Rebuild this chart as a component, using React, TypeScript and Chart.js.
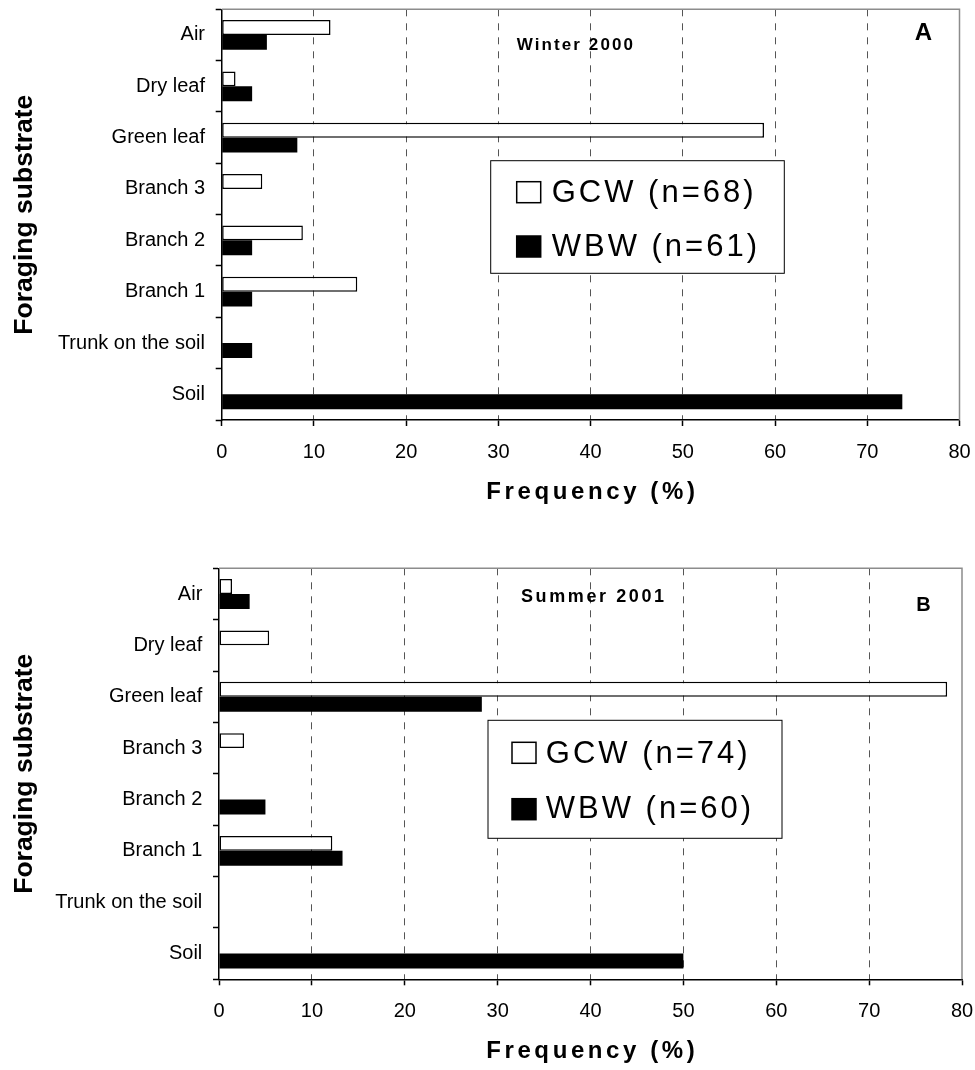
import React, { useEffect, useRef } from 'react';
import { Chart, registerables } from 'chart.js';

Chart.register(...registerables);

const FONT = '"Liberation Sans", Arial, Helvetica, sans-serif';

// ---- data ----
const categories = ['Air', 'Dry leaf', 'Green leaf', 'Branch 3', 'Branch 2', 'Branch 1', 'Trunk on the soil', 'Soil'];

const winterGCW = [11.8, 1.5, 58.8, 4.4, 8.8, 14.7, 0, 0];
const winterWBW = [4.9, 3.3, 8.2, 0, 3.3, 3.3, 3.3, 73.8];
const winterLegend = ['GCW (n=68)', 'WBW (n=61)'];

const summerGCW = [1.4, 5.4, 78.4, 2.7, 0, 12.2, 0, 0];
const summerWBW = [3.3, 0, 28.3, 0, 5.0, 13.3, 0, 50.0];
const summerLegend = ['GCW (n=74)', 'WBW (n=60)'];

const xMin = 0;
const xMax = 80;
const xStep = 10;

const yTitle = 'Foraging substrate';
const xTitle = 'Frequency (%)';

// ---- panel layout configs ----
const panelA = {
  season: 'Winter 2000',
  letter: 'A',
  gcw: winterGCW,
  wbw: winterWBW,
  legend: winterLegend,
  h: 545,
  yW: 221.7,
  padTop: 9.3,
  padRight: 15.5,
  padBottom: 20,
  xH: 105,
  box: { x: 269, y: 151.4, w: 293.6, h: 112.6 },
  swatchX: 295,
  textX: 330,
  rows: [{ top: 172.4, base: 192.4 }, { top: 226.7, base: 246.7 }],
  seasonPos: { x: 295, y: 40.7, size: 17, spacing: 2.1 },
  letterPos: { dx: 36.2, y: 30.7, size: 24 },
};

const panelB = {
  season: 'Summer 2001',
  letter: 'B',
  gcw: summerGCW,
  wbw: summerWBW,
  legend: summerLegend,
  h: 525,
  yW: 219,
  padTop: 23.3,
  padRight: 13,
  padBottom: 5.7,
  xH: 85,
  box: { x: 269, y: 152, w: 294, h: 118 },
  swatchX: 293,
  textX: 326.8,
  rows: [{ top: 174, base: 194.4 }, { top: 230.4, base: 249.7 }],
  seasonPos: { x: 302, y: 33.7, size: 18, spacing: 2.6 },
  letterPos: { dx: 38.5, y: 42.4, size: 20 },
};

function makeDeco(cfg: any) {
  return {
    id: 'deco' + cfg.letter,
    afterDatasetsDraw(chart: any) {
      const ctx = chart.ctx;
      const a = chart.chartArea;
      ctx.save();
      // top & right frame
      ctx.setLineDash([]);
      ctx.strokeStyle = '#8c8c8c';
      ctx.lineWidth = 1.5;
      ctx.beginPath();
      ctx.moveTo(a.left, a.top);
      ctx.lineTo(a.right, a.top);
      ctx.lineTo(a.right, a.bottom);
      ctx.stroke();

      // legend box
      const b = cfg.box;
      ctx.fillStyle = '#fff';
      ctx.fillRect(a.left + b.x, a.top + b.y, b.w, b.h);
      ctx.strokeStyle = '#000';
      ctx.lineWidth = 1;
      ctx.strokeRect(a.left + b.x, a.top + b.y, b.w, b.h);

      chart.data.datasets.forEach((ds: any, i: number) => {
        const r = cfg.rows[i];
        const sx = a.left + cfg.swatchX;
        const sy = a.top + r.top;
        ctx.fillStyle = ds.backgroundColor;
        ctx.fillRect(sx, sy, 24, 21);
        ctx.strokeStyle = '#000';
        ctx.lineWidth = 1.5;
        ctx.strokeRect(sx, sy, 24, 21);
        ctx.font = `31px ${FONT}`;
        (ctx as any).letterSpacing = '3px';
        ctx.fillStyle = '#000';
        ctx.textAlign = 'left';
        ctx.textBaseline = 'alphabetic';
        ctx.fillText(ds.label, a.left + cfg.textX, a.top + r.base);
      });

      // season label
      const s = cfg.seasonPos;
      ctx.font = `bold ${s.size}px ${FONT}`;
      (ctx as any).letterSpacing = `${s.spacing}px`;
      ctx.fillStyle = '#000';
      ctx.textAlign = 'left';
      ctx.textBaseline = 'alphabetic';
      ctx.fillText(cfg.season, a.left + s.x, a.top + s.y);

      // panel letter
      const l = cfg.letterPos;
      ctx.font = `bold ${l.size}px ${FONT}`;
      (ctx as any).letterSpacing = '0px';
      ctx.textAlign = 'center';
      ctx.fillText(cfg.letter, a.right - l.dx, a.top + l.y);

      // x axis title
      ctx.font = `bold 24px ${FONT}`;
      (ctx as any).letterSpacing = '3.6px';
      ctx.textAlign = 'center';
      ctx.fillText(xTitle, (a.left + a.right) / 2 + 1.8, a.bottom + 79);
      ctx.restore();
    },
  };
}

function Panel({ cfg }: { cfg: any }) {
  const ref = useRef<HTMLCanvasElement>(null);
  useEffect(() => {
    const chart = new Chart(ref.current as HTMLCanvasElement, {
      type: 'bar',
      data: {
        labels: categories,
        datasets: [
          {
            label: cfg.legend[0],
            data: cfg.gcw,
            backgroundColor: '#ffffff',
            borderColor: '#000000',
            borderWidth: 1.5,
            borderSkipped: false,
          },
          {
            label: cfg.legend[1],
            data: cfg.wbw,
            backgroundColor: '#000000',
            borderColor: '#000000',
            borderWidth: 0,
          },
        ],
      },
      options: {
        indexAxis: 'y',
        responsive: false,
        animation: false,
        devicePixelRatio: 1,
        datasets: { bar: { barPercentage: 1, categoryPercentage: 0.58 } },
        layout: { padding: { top: cfg.padTop, right: cfg.padRight, bottom: cfg.padBottom, left: 0 } },
        plugins: { legend: { display: false }, tooltip: { enabled: false }, title: { display: false } },
        scales: {
          x: {
            type: 'linear',
            position: 'bottom',
            min: xMin,
            max: xMax,
            ticks: { stepSize: xStep, font: { family: FONT, size: 20 }, color: '#000', padding: 14 },
            grid: {
              display: true,
              drawOnChartArea: true,
              drawTicks: true,
              color: (c: any) =>
                c.tick && (c.tick.value === xMin || c.tick.value === xMax) ? 'rgba(0,0,0,0)' : '#555555',
              lineWidth: 1,
              tickColor: '#000',
              tickWidth: 1.5,
              tickLength: 6,
            },
            border: { display: true, color: '#000', width: 1.5, dash: [7, 7] },
            afterFit: (s: any) => {
              s.height = cfg.xH;
              s.paddingLeft = 0;
              s.paddingRight = 0;
            },
          },
          y: {
            type: 'category',
            position: 'left',
            ticks: { font: { family: FONT, size: 20 }, color: '#000', padding: 10.7 },
            grid: {
              display: true,
              offset: true,
              drawOnChartArea: false,
              drawTicks: true,
              tickLength: 6,
              tickColor: '#000',
              tickWidth: 1.5,
            },
            border: { display: true, color: '#000', width: 1.5 },
            title: {
              display: true,
              text: yTitle,
              font: { family: FONT, size: 26.5, weight: 'bold' },
              color: '#000',
              padding: { top: 9, bottom: 0 },
            },
            afterFit: (s: any) => {
              s.width = cfg.yW;
              s.paddingTop = 0;
              s.paddingBottom = 0;
            },
          },
        },
      } as any,
      plugins: [makeDeco(cfg)],
    });
    return () => chart.destroy();
  }, [cfg]);
  return <canvas ref={ref} width={975} height={cfg.h} style={{ display: 'block' }} />;
}

export default function App() {
  return (
    <div style={{ position: 'absolute', left: 0, top: 0, width: 975, height: 1070, overflow: 'hidden', background: '#fff' }}>
      <Panel cfg={panelA} />
      <Panel cfg={panelB} />
    </div>
  );
}
